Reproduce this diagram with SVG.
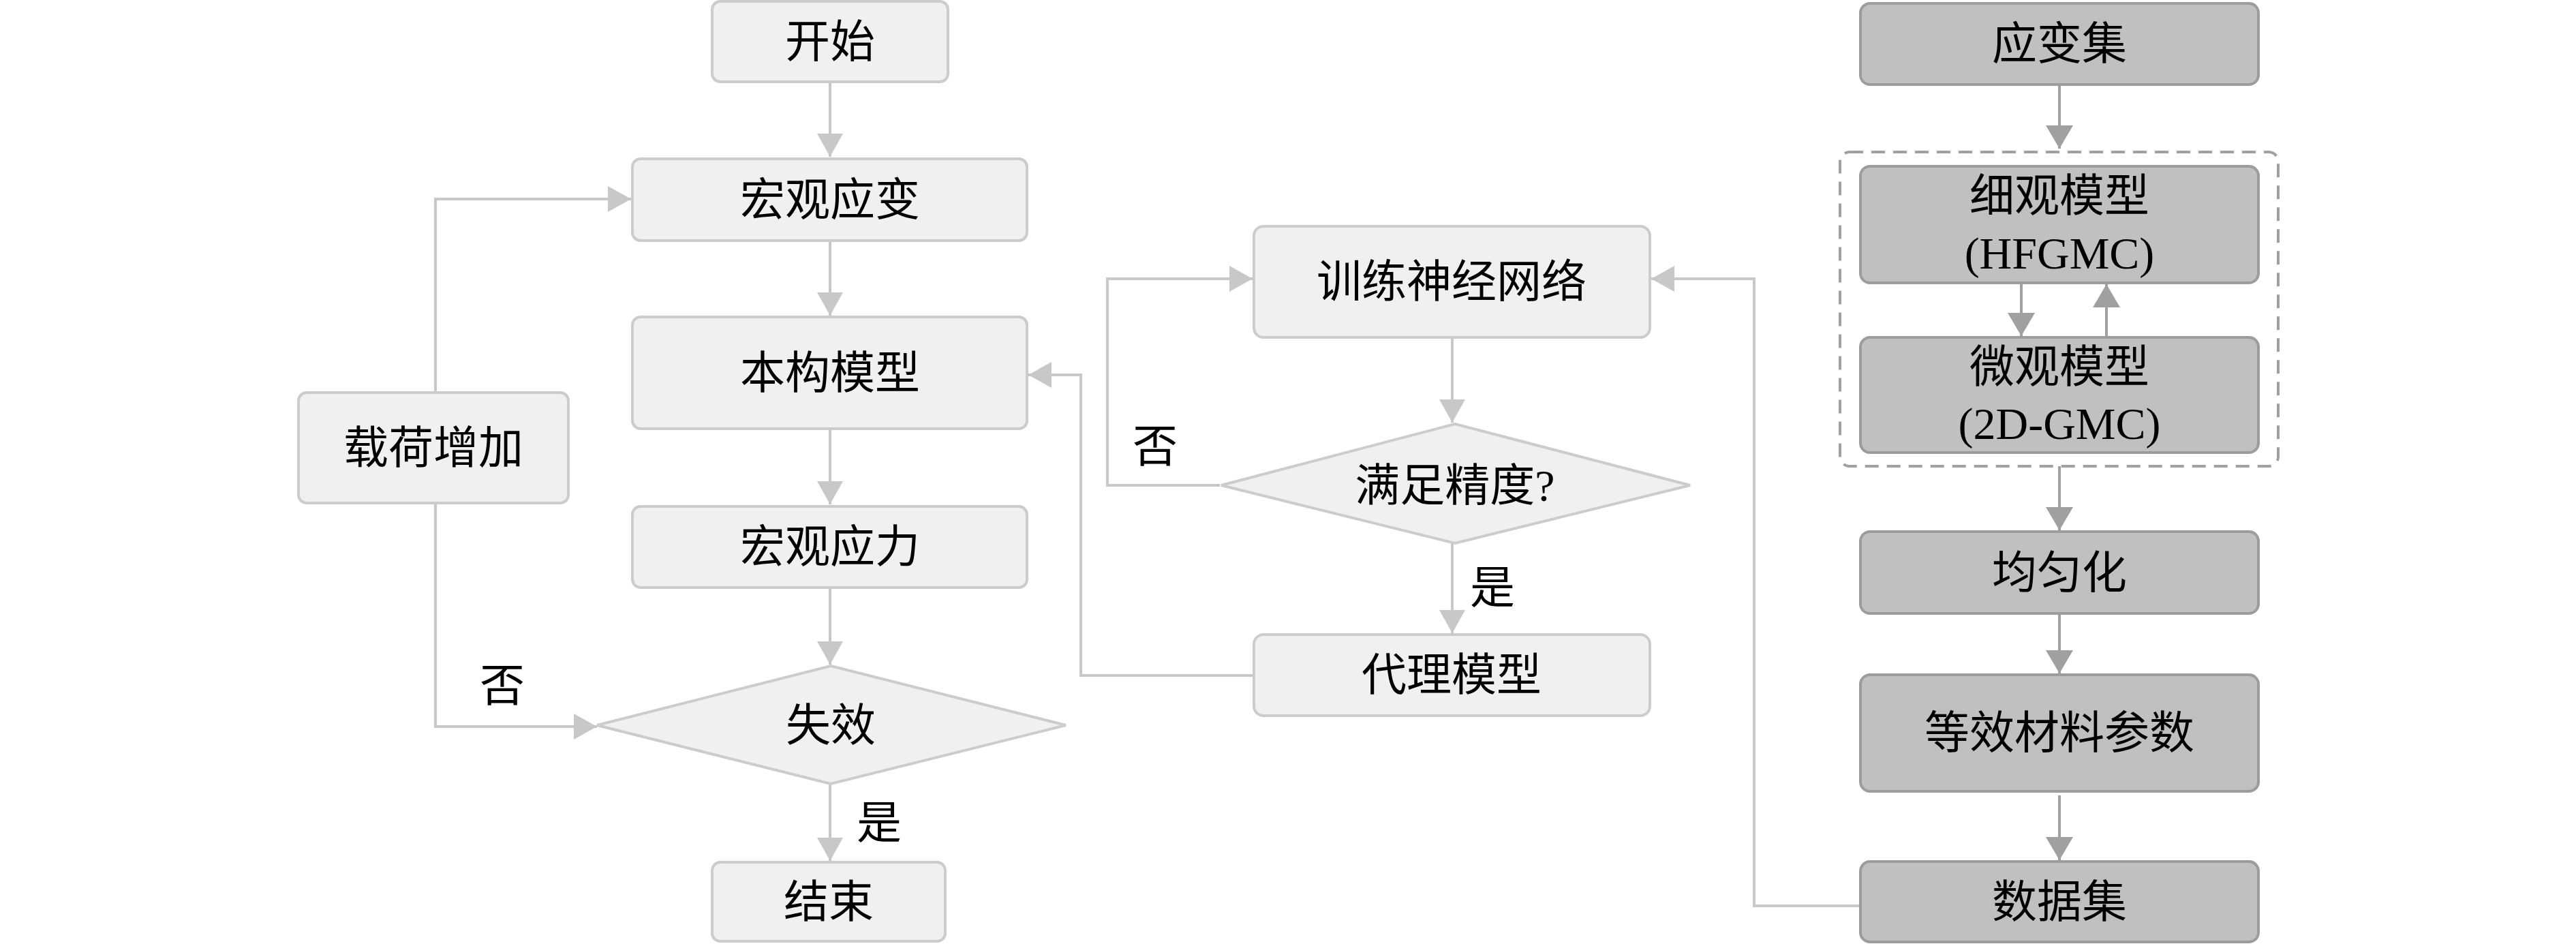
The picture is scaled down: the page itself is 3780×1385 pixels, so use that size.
<svg xmlns="http://www.w3.org/2000/svg" width="3780" height="1385" viewBox="0 0 3780 1385">
<defs>
<style>
.lb{fill:#f0f0f0;stroke:#cccccc;stroke-width:4}
.db{fill:#c0c0c0;stroke:#9c9c9c;stroke-width:4}
.t{font-family:"Liberation Serif","Noto Sans CJK SC",serif;font-size:66px;fill:#000;text-anchor:middle;dominant-baseline:central}
.lc{fill:none;stroke:#c8c8c8;stroke-width:4}
.dc{fill:none;stroke:#a0a0a0;stroke-width:4}
.dash{fill:none;stroke:#a0a0a0;stroke-width:4;stroke-dasharray:20 12}
</style>
<marker id="al" markerUnits="userSpaceOnUse" markerWidth="36" markerHeight="40" refX="34" refY="19" orient="auto"><path d="M0,0 L34,19 L0,38 Z" fill="#c8c8c8"/></marker>
<marker id="ad" markerUnits="userSpaceOnUse" markerWidth="36" markerHeight="42" refX="34" refY="20" orient="auto"><path d="M0,0 L34,20 L0,40 Z" fill="#a0a0a0"/></marker>
</defs>
<rect width="3780" height="1385" fill="#ffffff"/>

<g id="connectors">
<path class="lc" d="M1218,120 V230" marker-end="url(#al)"/>
<path class="lc" d="M1218,353 V463" marker-end="url(#al)"/>
<path class="lc" d="M1218,629 V740" marker-end="url(#al)"/>
<path class="lc" d="M1218,862 V975" marker-end="url(#al)"/>
<path class="lc" d="M1218,1150 V1263" marker-end="url(#al)"/>
<path class="lc" d="M639,576 V292 H926" marker-end="url(#al)"/>
<path class="lc" d="M639,738 V1066 H876" marker-end="url(#al)"/>
<path class="lc" d="M1840,991 H1586 V550 H1509" marker-end="url(#al)"/>
<path class="lc" d="M2131,495 V620" marker-end="url(#al)"/>
<path class="lc" d="M2131,797 V929" marker-end="url(#al)"/>
<path class="lc" d="M1790,712 H1625 V409 H1838" marker-end="url(#al)"/>
<path class="lc" d="M2730,1329 H2574 V409 H2423" marker-end="url(#al)"/>
<path class="dc" d="M3022,124 V218" marker-end="url(#ad)"/>
<path class="dc" d="M2966,415 V493" marker-end="url(#ad)"/>
<path class="dc" d="M3091,495 V417" marker-end="url(#ad)"/>
<path class="dc" d="M3022,684 V778" marker-end="url(#ad)"/>
<path class="dc" d="M3022,900 V988" marker-end="url(#ad)"/>
<path class="dc" d="M3022,1167 V1262" marker-end="url(#ad)"/>
</g>

<g id="label-no-1"><text class="t" x="737" y="1006">否</text></g>
<g id="label-yes-1"><text class="t" x="1290" y="1207">是</text></g>
<g id="label-no-2"><text class="t" x="1695" y="655">否</text></g>
<g id="label-yes-2"><text class="t" x="2190" y="862">是</text></g>

<g id="start"><rect class="lb" x="1045" y="2" width="346" height="118" rx="12"/><text class="t" x="1218" y="61">开始</text></g>
<g id="macro-strain"><rect class="lb" x="928" y="233" width="579" height="120" rx="12"/><text class="t" x="1218" y="293">宏观应变</text></g>
<g id="constitutive"><rect class="lb" x="928" y="465" width="579" height="164" rx="12"/><text class="t" x="1218" y="547">本构模型</text></g>
<g id="load-inc"><rect class="lb" x="438" y="576" width="396" height="162" rx="12"/><text class="t" x="636" y="657">载荷增加</text></g>
<g id="macro-stress"><rect class="lb" x="928" y="743" width="579" height="119" rx="12"/><text class="t" x="1218" y="802">宏观应力</text></g>
<g id="failure"><polygon class="lb" points="1219,977 1564,1064 1219,1150 876,1064"/><text class="t" x="1219" y="1064">失效</text></g>
<g id="end"><rect class="lb" x="1045" y="1265" width="342" height="116" rx="12"/><text class="t" x="1216" y="1323">结束</text></g>

<g id="train-nn"><rect class="lb" x="1840" y="332" width="581" height="163" rx="14"/><text class="t" x="2130" y="413">训练神经网络</text></g>
<g id="accuracy"><polygon class="lb" points="2135,622 2480,712 2135,797 1792,712"/><text class="t" x="2135" y="712">满足精度?</text></g>
<g id="surrogate"><rect class="lb" x="1840" y="931" width="581" height="119" rx="14"/><text class="t" x="2130" y="990">代理模型</text></g>

<g id="strain-set"><rect class="db" x="2730" y="5" width="584" height="119" rx="14"/><text class="t" x="3022" y="64">应变集</text></g>
<g id="multiscale-group"><rect class="dash" x="2700" y="223" width="643" height="461" rx="14"/></g>
<g id="meso-model"><rect class="db" x="2730" y="244" width="584" height="171" rx="14"/><text class="t" x="3022" y="287">细观模型</text><text class="t" x="3022" y="371">(HFGMC)</text></g>
<g id="micro-model"><rect class="db" x="2730" y="495" width="584" height="169" rx="14"/><text class="t" x="3022" y="538">微观模型</text><text class="t" x="3022" y="621">(2D-GMC)</text></g>
<g id="homogenize"><rect class="db" x="2730" y="780" width="584" height="120" rx="14"/><text class="t" x="3022" y="840">均匀化</text></g>
<g id="equiv-params"><rect class="db" x="2730" y="990" width="584" height="171" rx="14"/><text class="t" x="3022" y="1075">等效材料参数</text></g>
<g id="dataset"><rect class="db" x="2730" y="1264" width="584" height="118" rx="14"/><text class="t" x="3022" y="1323">数据集</text></g>
</svg>
